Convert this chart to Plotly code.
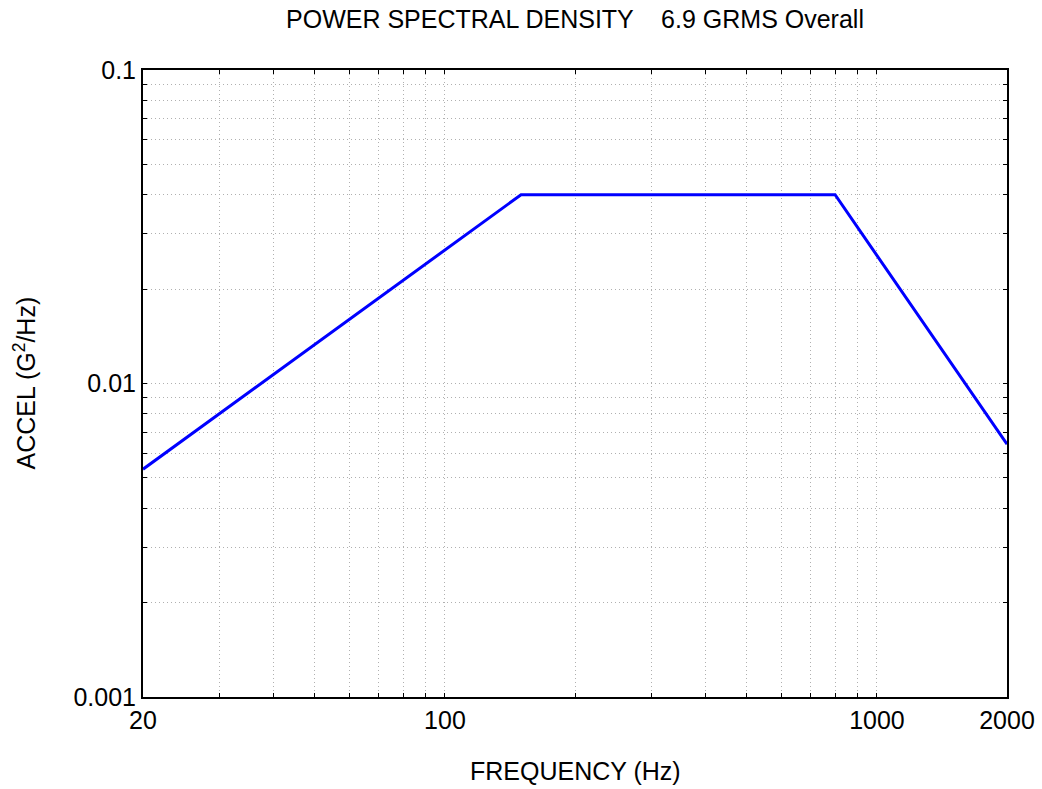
import plotly.graph_objects as go
import numpy as np

freq = [20, 150, 800, 2000]
psd = [0.00533, 0.04, 0.04, 0.0064]

x_major = [20, 100, 1000, 2000]
x_major_text = ["20", "100", "1000", "2000"]
x_minor = [30, 40, 50, 60, 70, 80, 90, 200, 300, 400, 500, 600, 700, 800, 900]
y_major = [0.001, 0.01, 0.1]
y_major_text = ["0.001", "0.01", "0.1"]
y_minor = [0.002, 0.003, 0.004, 0.005, 0.006, 0.007, 0.008, 0.009,
           0.02, 0.03, 0.04, 0.05, 0.06, 0.07, 0.08, 0.09]

title_text = "POWER SPECTRAL DENSITY    6.9 GRMS Overall"
x_title = "FREQUENCY (Hz)"
y_title = "ACCEL (G<sup>2</sup>/Hz)"

FONT = "Liberation Sans, Arial, sans-serif"
FS = 25

xt = sorted(x_major + x_minor)
xtt = [x_major_text[x_major.index(v)] if v in x_major else "" for v in xt]
yt = sorted(y_major + y_minor)
ytt = [y_major_text[y_major.index(v)] if v in y_major else "" for v in yt]

fig = go.Figure()
fig.add_trace(go.Scatter(x=freq, y=psd, mode="lines",
                         line=dict(color="#0000ff", width=3), showlegend=False))

axis_common = dict(
    showline=True, linecolor="black", linewidth=2, mirror="ticks",
    ticks="inside", ticklen=4, tickwidth=1, tickcolor="black",
    showgrid=True, gridcolor="#b0b0b0", gridwidth=1, griddash="1px,3px",
    zeroline=False, automargin=False,
    tickfont=dict(family=FONT, size=FS, color="black"),
)

fig.update_layout(
    width=1042, height=789,
    margin=dict(l=143, r=35, t=70, b=92, autoexpand=False),
    paper_bgcolor="white", plot_bgcolor="white",
    font=dict(family=FONT, size=FS, color="black"),
    title=dict(text=title_text, x=0.5, xref="paper", xanchor="center",
               y=1 - 19 / 789, yref="container", yanchor="middle",
               font=dict(family=FONT, size=FS, color="black")),
    xaxis=dict(type="log", range=[np.log10(20), np.log10(2000)],
               tickmode="array", tickvals=xt, ticktext=xtt, **axis_common),
    yaxis=dict(type="log", range=[-3, -1],
               tickmode="array", tickvals=yt, ticktext=ytt, **axis_common),
    annotations=[
        dict(text=x_title, xref="paper", yref="paper", x=0.5, y=-74 / 627,
             xanchor="center", yanchor="middle", showarrow=False,
             font=dict(family=FONT, size=FS, color="black")),
        dict(text=y_title, xref="paper", yref="paper", x=(24 - 143) / 864, y=0.5,
             xanchor="center", yanchor="middle", textangle=-90, showarrow=False,
             font=dict(family=FONT, size=FS, color="black")),
    ],
)

fig.write_html("out.html", config={"displayModeBar": False},
               post_script="document.body.style.margin='0';document.body.style.overflow='hidden';")
